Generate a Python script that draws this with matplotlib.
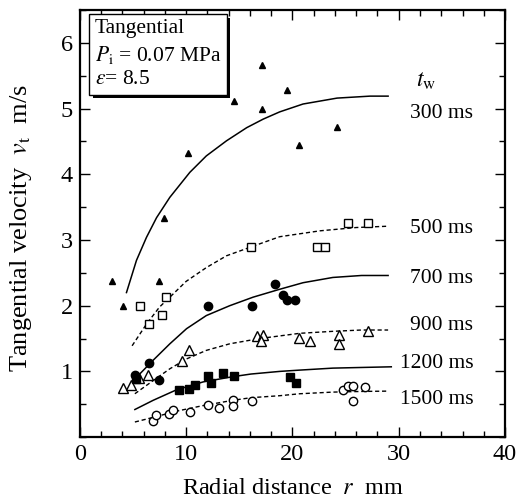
import numpy as np
import matplotlib.pyplot as plt
import matplotlib.patheffects as pe
from matplotlib.ticker import MultipleLocator

plt.rcParams['font.family'] = ['Liberation Serif', 'DejaVu Serif']
plt.rcParams['mathtext.fontset'] = 'stix'

# measured points (r in mm, vt in m/s)
r300 = [3.07, 4.08, 7.47, 7.9, 10.2, 14.5, 17.1, 17.1, 19.45, 20.6, 24.2]
v300 = [2.37, 2.00, 2.37, 3.33, 4.33, 5.12, 5.67, 5.00, 5.28, 4.44, 4.72]

r500 = [5.65, 6.5, 7.75, 8.1, 16.1, 22.3, 23.1, 25.2, 27.1]
v500 = [2.00, 1.72, 1.865, 2.13, 2.90, 2.90, 2.90, 3.26, 3.26]

r700 = [5.18, 6.5, 7.47, 12.1, 16.2, 18.4, 19.1, 19.5, 20.2]
v700 = [0.94, 1.13, 0.87, 2.00, 2.00, 2.33, 2.17, 2.08, 2.08]

r900 = [4.08, 4.86, 5.6, 6.37, 9.66, 10.3, 16.7, 17.2, 17.0, 20.6, 21.7, 24.4, 24.4, 27.1]
v900 = [0.745, 0.80, 0.90, 0.95, 1.165, 1.33, 1.535, 1.555, 1.46, 1.51, 1.46, 1.56, 1.42, 1.61]

r1200 = [5.33, 9.3, 10.3, 10.8, 12.1, 12.3, 13.5, 14.5, 19.8, 20.3]
v1200 = [0.89, 0.71, 0.735, 0.80, 0.93, 0.82, 0.97, 0.93, 0.91, 0.83]

r1500 = [6.84, 7.2, 8.4, 8.8, 10.4, 12.1, 13.1, 14.4, 14.4, 16.2, 24.8, 25.25, 25.7, 26.8, 25.7]
v1500 = [0.25, 0.33, 0.355, 0.405, 0.38, 0.49, 0.445, 0.56, 0.48, 0.55, 0.72, 0.775, 0.775, 0.76, 0.55]

# fitted curves
fr300 = [4.39, 5.33, 6.27, 7.22, 8.47, 10.35, 11.9, 13.8, 15.7, 17.25, 18.8, 21.0, 24.2, 27.3, 29.0]
fv300 = [2.20, 2.69, 3.04, 3.34, 3.65, 4.03, 4.28, 4.51, 4.71, 4.84, 4.95, 5.07, 5.16, 5.19, 5.19]

fr500 = [4.92, 6.27, 7.5, 8.47, 10.0, 11.9, 13.8, 16.2, 18.8, 22.6, 26.0, 29.0]
fv500 = [1.39, 1.72, 1.98, 2.13, 2.37, 2.58, 2.76, 2.90, 3.05, 3.14, 3.19, 3.21]

fr700 = [5.33, 6.9, 8.47, 10.04, 11.9, 14.1, 16.3, 18.8, 21.0, 23.8, 26.5, 29.0]
fv700 = [0.91, 1.17, 1.42, 1.65, 1.85, 2.00, 2.13, 2.25, 2.35, 2.43, 2.46, 2.46]

fr900 = [5.18, 6.9, 8.47, 10.04, 11.9, 14.1, 16.9, 18.8, 20.7, 23.8, 26.5, 29.0]
fv900 = [0.66, 0.86, 1.04, 1.19, 1.32, 1.42, 1.50, 1.54, 1.58, 1.61, 1.63, 1.63]

fr1200 = [5.18, 6.9, 9.1, 11.6, 14.4, 16.1, 18.8, 20.7, 23.8, 26.5, 29.3]
fv1200 = [0.42, 0.56, 0.72, 0.84, 0.92, 0.96, 1.00, 1.02, 1.05, 1.06, 1.07]

fr1500 = [5.18, 6.9, 9.1, 11.6, 14.4, 16.1, 18.8, 20.7, 23.8, 26.5, 29.0]
fv1500 = [0.23, 0.30, 0.395, 0.48, 0.56, 0.60, 0.63, 0.66, 0.685, 0.695, 0.70]

labels = ['300 ms', '500 ms', '700 ms', '900 ms', '1200 ms', '1500 ms']
label_y = [4.93, 3.17, 2.41, 1.70, 1.12, 0.57]

fig = plt.figure(figsize=(5.25, 5.03), dpi=100)
ax = fig.add_axes([0.152, 0.131, 0.81, 0.849])

solid = '-'
dash = (0, (3, 2))
ax.plot(fr300, fv300, 'k', ls=solid, lw=1.1)
ax.plot(fr500, fv500, 'k', ls=dash, lw=1.0)
ax.plot(fr700, fv700, 'k', ls=solid, lw=1.1)
ax.plot(fr900, fv900, 'k', ls=dash, lw=1.0)
ax.plot(fr1200, fv1200, 'k', ls=solid, lw=1.1)
ax.plot(fr1500, fv1500, 'k', ls=dash, lw=1.0)

ax.plot(r300, v300, '^', ms=5, mfc='k', mec='k', ls='none')
ax.plot(r500, v500, 's', ms=6, mfc='white', mec='k', mew=1, ls='none')
ax.plot(r700, v700, 'o', ms=6, mfc='k', mec='k', ls='none')
ax.plot(r900, v900, '^', ms=6.5, mfc='white', mec='k', mew=1, ls='none')
ax.plot(r1200, v1200, 's', ms=6, mfc='k', mec='k', ls='none')
ax.plot(r1500, v1500, 'o', ms=6, mfc='white', mec='k', mew=1, ls='none')

for lab, yy in zip(labels, label_y):
    ax.text(37.0, yy, lab, ha='right', va='center', fontsize=15.5)
ax.text(31.6, 5.42, '$t_{\\mathrm{w}}$', ha='left', va='center', fontsize=17)

ax.set_xlim(0, 40)
ax.set_ylim(0, 6.5)
ax.xaxis.set_major_locator(MultipleLocator(10))
ax.xaxis.set_minor_locator(MultipleLocator(2))
ax.yaxis.set_major_locator(MultipleLocator(1))
ax.yaxis.set_minor_locator(MultipleLocator(0.5))
ax.set_yticks([1, 2, 3, 4, 5, 6])
ax.tick_params(which='both', direction='in', top=True, right=True, labelsize=17.5, width=1)
ax.tick_params(which='major', length=7, pad=5)
ax.tick_params(which='minor', length=4)
for s in ax.spines.values():
    s.set_linewidth(1.6)

ax.set_xlabel('Radial distance  $r$  mm', fontsize=17.5, labelpad=9)
ax.set_ylabel('Tangential velocity  $v_{\\mathrm{t}}$  m/s', fontsize=19)
ax.yaxis.set_label_coords(-0.108, 0.49)

t = ax.text(0.035, 0.978, 'Tangential\n$P_{\\mathrm{i}}$ = 0.07 MPa\n$\\varepsilon$= 8.5',
            transform=ax.transAxes, ha='left', va='top', fontsize=15.5, linespacing=1.32,
            bbox=dict(boxstyle='square,pad=0.25', fc='white', ec='black', lw=1))
t.get_bbox_patch().set_path_effects([pe.SimplePatchShadow(offset=(2.5, -2.5), shadow_rgbFace='black', alpha=1), pe.Normal()])

fig.savefig('out.png', dpi=100)
